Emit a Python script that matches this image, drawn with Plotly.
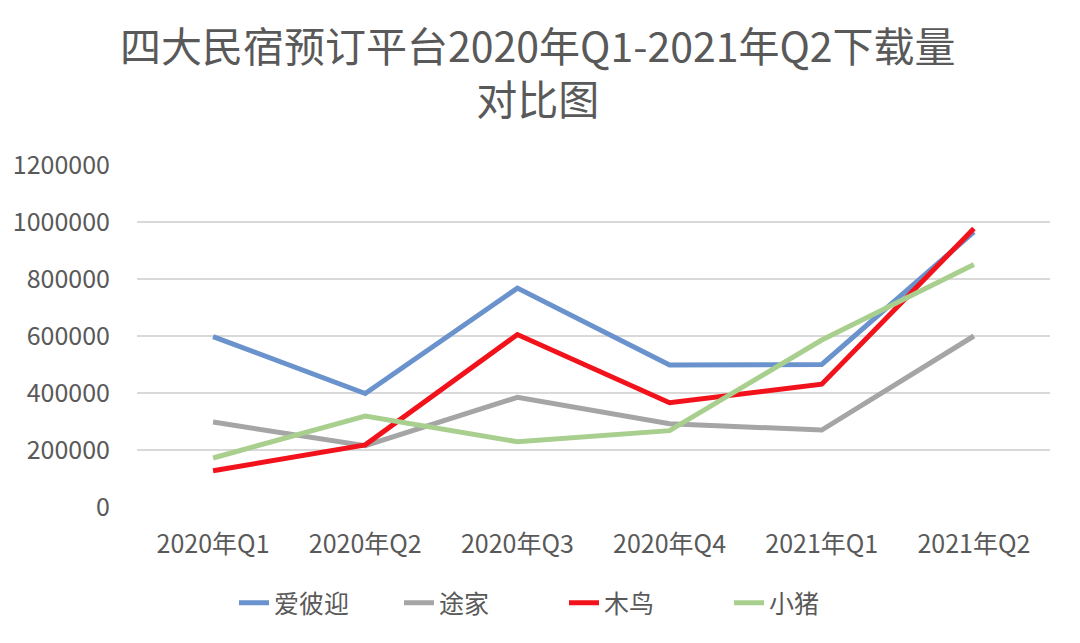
import plotly.graph_objects as go

categories = ["2020年Q1", "2020年Q2", "2020年Q3", "2020年Q4", "2021年Q1", "2021年Q2"]
airbnb = [598000, 398000, 768000, 498000, 500000, 965000]
tujia = [298000, 215000, 385000, 292000, 270000, 600000]
muniao = [127000, 218000, 605000, 366000, 431000, 977000]
xiaozhu = [172000, 319000, 229000, 268000, 586000, 851000]

title_text = "四大民宿预订平台2020年Q1-2021年Q2下载量<br>对比图"

series = [
    ("爱彼迎", airbnb, "#6A92CC"),
    ("途家", tujia, "#A5A5A5"),
    ("木鸟", muniao, "#F2121B"),
    ("小猪", xiaozhu, "#A9CF8E"),
]

FONT = "Noto Sans CJK SC"
GREY = "#595959"
OFF = 8  # page body margin
W, H = 1080 - OFF, 643 - OFF
L, R, T, B = 137 - OFF, 30, 165 - OFF, 136

fig = go.Figure()
for name, vals, color in series:
    fig.add_trace(go.Scatter(
        x=categories, y=vals, name=name, mode="lines",
        line=dict(color=color, width=5),
    ))

fig.add_annotation(
    text=title_text, xref="paper", yref="paper", showarrow=False,
    x=(538 - OFF - L) / (W - L - R), xanchor="center",
    y=(H - B - (70 - OFF)) / (H - T - B), yanchor="middle",
    font=dict(family=FONT, size=41, color=GREY),
)

fig.update_layout(
    width=W, height=H,
    paper_bgcolor="white", plot_bgcolor="white",
    margin=dict(l=L, r=R, t=T, b=B, autoexpand=False),
    font=dict(family=FONT, color=GREY),
    legend=dict(
        orientation="h", xref="container", yref="container",
        x=(564 - OFF) / W, xanchor="center", y=1 - (603 - OFF) / H, yanchor="middle",
        font=dict(family=FONT, size=25, color=GREY),
        entrywidth=120,
    ),
    showlegend=True,
)
fig.update_xaxes(
    type="category", range=[-0.5, 5.5], showgrid=False, zeroline=False,
    showline=False, ticks="", ticklabelstandoff=20, automargin=False,
    tickfont=dict(family=FONT, size=25, color=GREY),
)
fig.update_yaxes(
    range=[0, 1200000], dtick=200000, tickformat="d",
    showgrid=True, gridcolor="#D9D9D9", gridwidth=1.5, zeroline=False,
    showline=False, ticks="", ticklabelstandoff=26, automargin=False,
    tickfont=dict(family=FONT, size=25, color=GREY),
)

fig.write_html("out.html")
